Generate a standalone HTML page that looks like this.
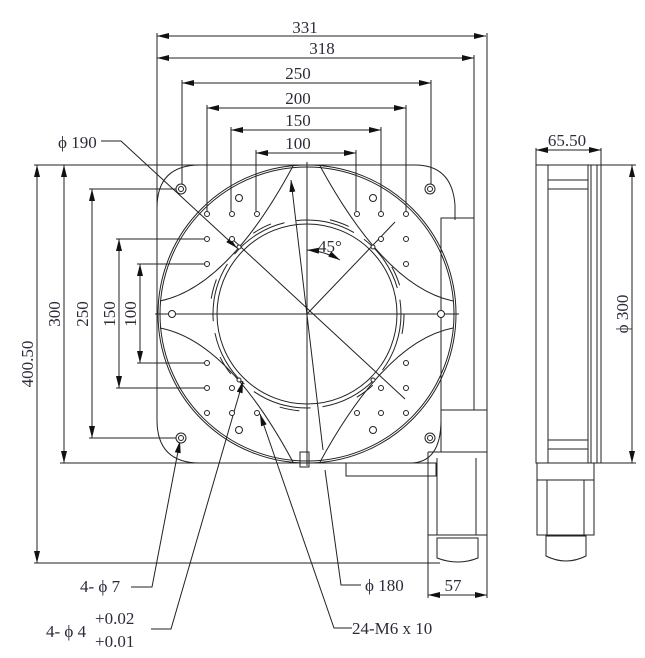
<!DOCTYPE html>
<html><head><meta charset="utf-8"><style>
html,body{margin:0;padding:0;background:#fff;}
svg{display:block}
text{font-family:"Liberation Serif",serif;font-size:17px;fill:#2b2b3a}
</style></head><body>
<svg width="645" height="658" viewBox="0 0 645 658" xmlns="http://www.w3.org/2000/svg">
<defs>
<marker id="a" viewBox="0 0 12 6" refX="12" refY="3" markerWidth="12" markerHeight="6" markerUnits="userSpaceOnUse" orient="auto-start-reverse"><path d="M0,0 L12,3 L0,6 z" fill="#111"/></marker>
</defs>
<g stroke="#222" stroke-width="1" fill="none">
<!-- top dims -->
<line x1="157" y1="36" x2="486" y2="36" marker-start="url(#a)" marker-end="url(#a)"/>
<line x1="157" y1="58" x2="474" y2="58" marker-start="url(#a)" marker-end="url(#a)"/>
<line x1="182" y1="83" x2="431" y2="83" marker-start="url(#a)" marker-end="url(#a)"/>
<line x1="207" y1="108" x2="406" y2="108" marker-start="url(#a)" marker-end="url(#a)"/>
<line x1="231" y1="130" x2="381" y2="130" marker-start="url(#a)" marker-end="url(#a)"/>
<line x1="256" y1="153" x2="356" y2="153" marker-start="url(#a)" marker-end="url(#a)"/>
<!-- extension lines vertical -->
<line x1="157" y1="33" x2="157" y2="300"/>
<line x1="487" y1="33" x2="487" y2="598"/>
<line x1="474" y1="55" x2="474" y2="410"/>
<line x1="182" y1="80" x2="182" y2="186"/>
<line x1="431" y1="80" x2="431" y2="186"/>
<line x1="207" y1="105" x2="207" y2="211"/>
<line x1="406" y1="105" x2="406" y2="211"/>
<line x1="231" y1="127" x2="231" y2="211"/>
<line x1="381" y1="127" x2="381" y2="211"/>
<line x1="256" y1="150" x2="256" y2="211"/>
<line x1="356" y1="150" x2="356" y2="211"/>
<!-- left dims -->
<line x1="34" y1="165" x2="300" y2="165"/>
<line x1="34" y1="563" x2="440" y2="563"/>
<line x1="60" y1="463" x2="430" y2="463"/>
<line x1="37" y1="165" x2="37" y2="563" marker-start="url(#a)" marker-end="url(#a)"/>
<line x1="64" y1="165" x2="64" y2="463" marker-start="url(#a)" marker-end="url(#a)"/>
<line x1="92" y1="189" x2="92" y2="438" marker-start="url(#a)" marker-end="url(#a)"/>
<line x1="119" y1="239" x2="119" y2="388" marker-start="url(#a)" marker-end="url(#a)"/>
<line x1="140" y1="264" x2="140" y2="363" marker-start="url(#a)" marker-end="url(#a)"/>
<line x1="89" y1="189" x2="178" y2="189"/>
<line x1="89" y1="438" x2="178" y2="438"/>
<line x1="116" y1="239" x2="204" y2="239"/>
<line x1="116" y1="388" x2="204" y2="388"/>
<line x1="137" y1="264" x2="204" y2="264"/>
<line x1="137" y1="363" x2="204" y2="363"/>
<!-- plate -->
<path d="M200,165 L415,165 Q452,165 455,205 L455,220 M441,410 L441,420 Q441,463 410,463 L200,463 Q157,463 157,420 L157,208 Q157,165 200,165"/>
<circle cx="307" cy="314" r="149"/>
<circle cx="307" cy="314" r="147"/>
<circle cx="307" cy="314" r="90"/>
<circle cx="307" cy="314" r="94" stroke-dasharray="60 12"/>
<circle cx="307" cy="314" r="97" stroke-dasharray="20 60" />
<!-- lobes -->
<path d="M160,301 Q228,287 293,166"/>
<path d="M320,166 Q386,287 453,301"/>
<path d="M160,328 Q228,341 293,462"/>
<path d="M320,462 Q386,341 453,328"/>
<!-- center lines -->
<line x1="155" y1="314" x2="459" y2="314"/>
<line x1="307" y1="162" x2="307" y2="466"/>
<line x1="230" y1="237" x2="405" y2="399"/>
<line x1="307" y1="314" x2="395" y2="222"/>
<line x1="291" y1="180" x2="323" y2="450" marker-start="url(#a)"/>
<path d="M340,260 A75,75 0 0 0 307,250" marker-start="url(#a)" marker-end="url(#a)"/>
<!-- motor housing -->
<rect x="441" y="218" width="33" height="192"/>
<rect x="441" y="410" width="46" height="42"/>
<path d="M428,452 L487,452 M428,452 L428,535 M437,458 L437,535 M476,458 L476,535 M428,535 L487,535"/>
<path d="M437,538 L478,538 L478,558 Q458,566 437,558 Z"/>
<rect x="346" y="463" width="90" height="13"/>
<line x1="428" y1="535" x2="428" y2="598"/>
<line x1="428" y1="595" x2="487" y2="595" marker-start="url(#a)" marker-end="url(#a)"/>
<rect x="300" y="452" width="9" height="15"/>
<!-- side view -->
<rect x="536" y="165" width="65" height="298"/>
<line x1="548" y1="165" x2="548" y2="463"/>
<line x1="588" y1="165" x2="588" y2="463"/>
<line x1="591" y1="165" x2="591" y2="463"/>
<line x1="597" y1="165" x2="597" y2="463"/>
<line x1="548" y1="180" x2="588" y2="180"/><line x1="548" y1="189" x2="588" y2="189"/>
<line x1="548" y1="440" x2="588" y2="440"/><line x1="548" y1="449" x2="588" y2="449"/>
<line x1="536" y1="148" x2="536" y2="165"/><line x1="601" y1="148" x2="601" y2="165"/>
<line x1="536" y1="150" x2="601" y2="150" marker-start="url(#a)" marker-end="url(#a)"/>
<line x1="601" y1="165" x2="636" y2="165"/><line x1="601" y1="463" x2="636" y2="463"/>
<line x1="632" y1="165" x2="632" y2="463" marker-start="url(#a)" marker-end="url(#a)"/>
<path d="M537,463 L537,480 L594,480 L594,463 M537,480 L537,535 L594,535 L594,480 M547,480 L547,535 M584,480 L584,535"/>
<path d="M546,536 L586,536 L586,556 Q566,566 546,556 Z"/>
<!-- leaders -->
<path d="M101,141 L121,141 L237,248" marker-end="url(#a)"/>
<path d="M131,587 L152,587 L180,441" marker-end="url(#a)"/>
<path d="M151,629 L171,629 L243,381" marker-end="url(#a)"/>
<path d="M352,628 L334,628 L260,414" marker-end="url(#a)"/>
<path d="M361,585 L341,585 L325,470"/>
</g>
<g fill="#fff" stroke="#222" stroke-width="1">
<circle cx="181" cy="189" r="5"/><circle cx="181" cy="189" r="2.5"/>
<circle cx="430" cy="189" r="5"/><circle cx="430" cy="189" r="2.5"/>
<circle cx="181" cy="438" r="5"/><circle cx="181" cy="438" r="2.5"/>
<circle cx="430" cy="438" r="5"/><circle cx="430" cy="438" r="2.5"/>
<circle cx="239" cy="198" r="3.5"/><circle cx="373" cy="198" r="3.5"/>
<circle cx="239" cy="430" r="3.5"/><circle cx="373" cy="430" r="3.5"/>
<circle cx="172" cy="314" r="3.5"/><circle cx="441" cy="314" r="3.5"/>
<g id="h">
<circle cx="207" cy="214" r="2.5"/><circle cx="232" cy="214" r="2.5"/><circle cx="257" cy="214" r="2.5"/>
<circle cx="207" cy="239" r="2.5"/><circle cx="207" cy="264" r="2.5"/>
<circle cx="357" cy="214" r="2.5"/><circle cx="381" cy="214" r="2.5"/><circle cx="406" cy="214" r="2.5"/>
<circle cx="406" cy="239" r="2.5"/><circle cx="406" cy="264" r="2.5"/>
<circle cx="207" cy="363" r="2.5"/><circle cx="207" cy="388" r="2.5"/><circle cx="207" cy="413" r="2.5"/>
<circle cx="232" cy="413" r="2.5"/><circle cx="257" cy="413" r="2.5"/>
<circle cx="406" cy="363" r="2.5"/><circle cx="406" cy="388" r="2.5"/><circle cx="406" cy="413" r="2.5"/>
<circle cx="381" cy="413" r="2.5"/><circle cx="357" cy="413" r="2.5"/>
<circle cx="232" cy="239" r="2.5"/><circle cx="381" cy="239" r="2.5"/><circle cx="232" cy="388" r="2.5"/><circle cx="381" cy="388" r="2.5"/>
<circle cx="239" cy="247" r="2"/><circle cx="373" cy="247" r="2"/><circle cx="239" cy="380" r="2"/><circle cx="373" cy="380" r="2"/>
</g>
</g>
<text x="305" y="33" text-anchor="middle">331</text>
<text x="322" y="54" text-anchor="middle">318</text>
<text x="298" y="79" text-anchor="middle">250</text>
<text x="298" y="104" text-anchor="middle">200</text>
<text x="298" y="126" text-anchor="middle">150</text>
<text x="298" y="149" text-anchor="middle">100</text>
<text x="58" y="148">ϕ 190</text>
<text x="318" y="252" font-size="16">45°</text>
<text transform="translate(33,364) rotate(-90)" text-anchor="middle">400.50</text>
<text transform="translate(60,314) rotate(-90)" text-anchor="middle">300</text>
<text transform="translate(88,314) rotate(-90)" text-anchor="middle">250</text>
<text transform="translate(115,314) rotate(-90)" text-anchor="middle">150</text>
<text transform="translate(136,314) rotate(-90)" text-anchor="middle">100</text>
<text x="567" y="146" text-anchor="middle">65.50</text>
<text transform="translate(628,314) rotate(-90)" text-anchor="middle">ϕ 300</text>
<text x="453" y="591" text-anchor="middle">57</text>
<text x="80" y="592">4- ϕ 7</text>
<text x="365" y="591">ϕ 180</text>
<text x="46" y="637">4- ϕ 4</text>
<text x="95" y="624">+0.02</text>
<text x="95" y="647">+0.01</text>
<text x="352" y="634">24-M6 x 10</text>
</svg>
</body></html>
